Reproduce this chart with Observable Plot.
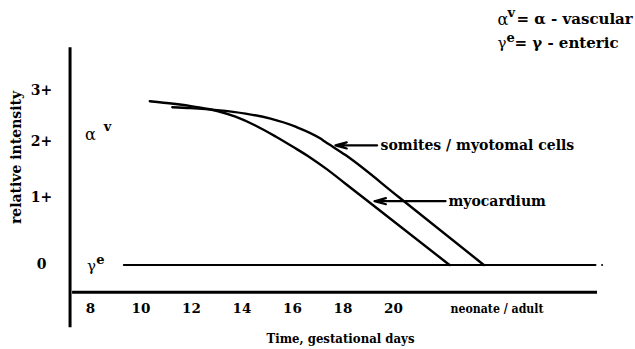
<!DOCTYPE html>
<html><head><meta charset="utf-8">
<script src="https://cdn.jsdelivr.net/npm/d3@7"></script>
<script src="https://cdn.jsdelivr.net/npm/@observablehq/plot@0.6"></script>
<style>
body{margin:0;background:#fff}
svg, svg text{font-family:"DejaVu Serif","Liberation Serif",serif !important}
</style>
</head><body><div id="chart"></div>
<script>
// ---- data ----
const xTicks = [8, 10, 12, 14, 16, 18, 20, 24.1];
const xTickLabels = ["8", "10", "12", "14", "16", "18", "20", "neonate / adult"];
const yTicks = [0, 1, 2, 3];
const yTickLabels = ["0", "1+", "2+", "3+"];

const seriesNames = ["myocardium", "somites / myotomal cells"];
const myoDay = [10.35, 11.29, 12.16, 13.02, 13.74, 14.53, 15.33, 16.05, 16.71, 17.37, 18.10, 18.80, 22.22];
const myoIntensity = [2.79, 2.739, 2.678, 2.598, 2.486, 2.314, 2.098, 1.896, 1.711, 1.502, 1.245, 1.0, 0];
const somDay = [11.24, 11.96, 13.02, 14.14, 15.13, 16.12, 17.11, 17.28, 18.10, 20.23, 23.58];
const somIntensity = [2.673, 2.655, 2.616, 2.547, 2.447, 2.290, 2.057, 2.0, 1.757, 1.0, 0];

const gammaDay = [9.32, 28.0];
const gammaIntensity = [0, 0];
const strayDot = [{day: 28.26, intensity: 0}];

// axis extents (data units)
const xAxisDay = [7.29, 28.08];
const yAxisDay = 7.19;
const yAxisExtent = [-0.93, 3.84];
const xAxisIntensity = -0.403;

// arrow annotations (same order as seriesNames): from label end to tip on curve
const arrowFromDay = [22.06, 19.35];
const arrowToDay = [19.25, 17.70];
const arrowIntensity = [0.945, 1.93];
const labelDay = [22.18, 19.49];

// ---- tables ----
const curves = [
  ...myoDay.map((d, i) => ({series: seriesNames[0], day: d, intensity: myoIntensity[i]})),
  ...somDay.map((d, i) => ({series: seriesNames[1], day: d, intensity: somIntensity[i]}))
];
const gamma = gammaDay.map((d, i) => ({day: d, intensity: gammaIntensity[i]}));
const arrows = seriesNames.map((s, i) => ({x1: arrowFromDay[i], x2: arrowToDay[i], y: arrowIntensity[i], label: s, lx: labelDay[i]}));

const W = 635, H = 349, mL = 70, mR = 38, mT = 47, mB = 57;
const at = (px, py, anchor = "middle") => ({frameAnchor: "top-left", dx: px - mL, dy: py - mT, textAnchor: anchor, lineAnchor: "middle"});
const fs = 14;
const FF = "DejaVu Serif, Liberation Serif, serif";

const plot = Plot.plot({
  width: W, height: H,
  marginLeft: mL, marginRight: mR, marginTop: mT, marginBottom: mB,
  style: {fontFamily: FF, fontWeight: "bold", background: "#fff", color: "#000"},
  x: {type: "linear", domain: [8, 20], range: [90, 393], axis: null},
  y: {type: "linear", domain: [0, 1, 2, 3], range: [264.5, 197, 141, 90], axis: null},
  marks: [
    Plot.ruleX([yAxisDay], {y1: yAxisExtent[0], y2: yAxisExtent[1], stroke: "#000", strokeWidth: 3}),
    Plot.ruleY([xAxisIntensity], {x1: xAxisDay[0], x2: xAxisDay[1], stroke: "#000", strokeWidth: 3}),
    Plot.text(xTicks, {x: d => d, text: (d, i) => xTickLabels[i], frameAnchor: "bottom", dy: 16, lineAnchor: "middle", textAnchor: "middle", fontSize: 13.5, fontWeight: "bold", className: "xtick"}),
    Plot.text(yTicks, {y: d => d, text: (d, i) => yTickLabels[i], frameAnchor: "left", dx: -29, textAnchor: "middle", lineAnchor: "middle", fontSize: fs, fontWeight: "bold"}),
    Plot.text(["Time, gestational days"], {text: d => d, frameAnchor: "bottom", dx: 6.5, dy: 46, lineAnchor: "middle", textAnchor: "middle", fontSize: 13.5, fontWeight: "bold", className: "xtitle"}),
    Plot.text(["relative intensity"], {text: d => d, frameAnchor: "left", dx: -54, dy: -12.5, rotate: -90, textAnchor: "middle", lineAnchor: "middle", fontSize: fs, fontWeight: "bold"}),
    Plot.line(gamma, {x: "day", y: "intensity", stroke: "#000", strokeWidth: 2}),
    Plot.dot(strayDot, {x: "day", y: "intensity", r: 1, fill: "#000", stroke: null}),
    Plot.line(curves, {x: "day", y: "intensity", z: "series", stroke: "#000", strokeWidth: 2.4, curve: "monotone-x"}),
    Plot.arrow(arrows, {x1: "x1", x2: "x2", y1: "y", y2: "y", stroke: "#000", strokeWidth: 2.2, headLength: 8, headAngle: 30}),
    Plot.text(arrows, {x: "lx", y: "y", text: "label", textAnchor: "start", lineAnchor: "middle", fontSize: fs, fontWeight: "bold"}),
    Plot.text(["α"], {text: d => d, ...at(90, 134), fontSize: 16, fontWeight: "normal"}),
    Plot.text(["v"], {text: d => d, ...at(107, 126), fontSize: 13, fontWeight: "bold"}),
    Plot.text(["γ"], {text: d => d, ...at(91, 266), fontSize: 15, fontWeight: "normal"}),
    Plot.text(["e"], {text: d => d, ...at(100, 259), fontSize: 13, fontWeight: "bold"}),
    Plot.text(["α"], {text: d => d, ...at(497, 19, "start"), fontSize: 16, fontWeight: "normal"}),
    Plot.text(["v"], {text: d => d, ...at(507, 12, "start"), fontSize: 13, fontWeight: "bold"}),
    Plot.text(["= α - vascular"], {text: d => d, ...at(516, 19, "start"), fontSize: 15, fontWeight: "bold"}),
    Plot.text(["γ"], {text: d => d, ...at(497, 43, "start"), fontSize: 15, fontWeight: "normal"}),
    Plot.text(["e"], {text: d => d, ...at(506, 37, "start"), fontSize: 13, fontWeight: "bold"}),
    Plot.text(["= γ - enteric"], {text: d => d, ...at(514, 43, "start"), fontSize: 15, fontWeight: "bold"})
  ]
});
// tighten the condensed labels of the bottom axis to the reference widths
d3.select(plot).selectAll(".xtitle text").attr("textLength", 148).attr("lengthAdjust", "spacingAndGlyphs");
d3.select(plot).selectAll(".xtick text").filter(function() { return this.textContent === xTickLabels[xTickLabels.length - 1]; })
  .attr("textLength", 93).attr("lengthAdjust", "spacingAndGlyphs");
document.getElementById("chart").appendChild(plot);
</script>
</body></html>
